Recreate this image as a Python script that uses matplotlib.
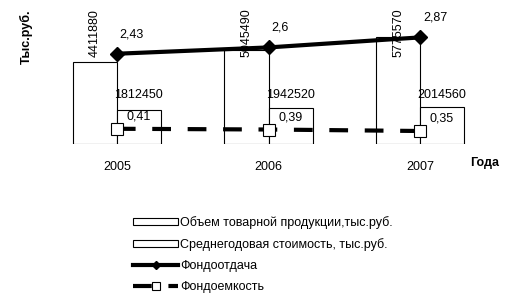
import matplotlib.pyplot as plt
import numpy as np

plt.rcParams['font.family'] = ['Liberation Sans', 'DejaVu Sans']
plt.rcParams['font.size'] = 9

years = ['2005', '2006', '2007']
obem = [4411880, 5045490, 5775570]
stoim = [1812450, 1942520, 2014560]
otdacha = [2.43, 2.6, 2.87]
emkost = [0.41, 0.39, 0.35]

fig = plt.figure(figsize=(5.11, 3.08), dpi=100)
ax = fig.add_axes([41 / 511, 164 / 308, 455 / 511, 130 / 308])
pos = np.arange(len(years))
w = 44 / 151.5

b1 = ax.bar(pos - w, obem, w, align='edge', color='white', edgecolor='black', lw=0.8,
            label='Объем товарной продукции,тыс.руб.')
b2 = ax.bar(pos, stoim, w, align='edge', color='white', edgecolor='black', lw=0.8,
            label='Среднегодовая стоимость, тыс.руб.')
ax.set_xlim(-0.5, 2.5)
ax.set_ylim(0, 7000000)
ax.set_xticks(pos, years)
ax.tick_params(axis='x', length=0, pad=12)
ax.set_yticks([])
for s in ax.spines.values():
    s.set_visible(False)

tr = ax.get_xaxis_transform()
for i in range(len(years)):
    ax.text(pos[i] - w / 2, 0.669, str(obem[i]), rotation=90, ha='center', va='bottom', transform=tr)
    ax.text(pos[i] + w / 2, 0.377, str(stoim[i]), ha='center', va='center', transform=tr)

ax2 = ax.twinx()
ax2.set_ylim(0, 3.5)
ax2.set_yticks([])
for s in ax2.spines.values():
    s.set_visible(False)
l1, = ax2.plot(pos, otdacha, color='black', lw=3, marker='D', ms=7, label='Фондоотдача')
l2, = ax2.plot(pos, emkost, color='black', lw=3, dashes=[4.5, 4], marker='s', ms=9,
               mfc='white', mec='black', mew=0.8, label='Фондоемкость')
for i in range(len(years)):
    ax2.annotate(str(otdacha[i]).replace('.', ','), (pos[i], otdacha[i]), xytext=(2, 14),
                 textcoords='offset points', ha='left', va='center')
    ax2.annotate(str(emkost[i]).replace('.', ','), (pos[i], emkost[i]), xytext=(7, 9),
                 textcoords='offset points', ha='left', va='center')

fig.text(26 / 511, 1 - 37 / 308, 'Тыс.руб.', rotation=90, ha='center', va='center', fontweight='bold')
fig.text(470 / 511, 1 - 163 / 308, 'Года', ha='left', va='center', fontweight='bold')

fig.legend(handles=[b1, b2, l1, l2], loc='upper left', bbox_to_anchor=(133 / 511, 1 - 216 / 308),
           frameon=False, handlelength=3.6, handleheight=0.55, handletextpad=0.2,
           labelspacing=0.72, markerscale=0.65, borderaxespad=0, borderpad=0)

fig.savefig('out.png', dpi=100)
